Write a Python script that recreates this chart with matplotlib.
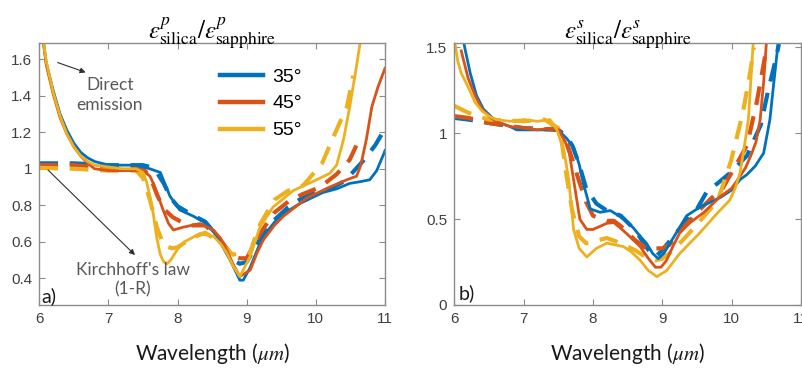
import matplotlib
matplotlib.use("Agg")
import matplotlib.pyplot as plt
from matplotlib.lines import Line2D

plt.rcParams['mathtext.fontset'] = 'stix'
plt.rcParams['font.family'] = ['Liberation Sans', 'DejaVu Sans']

# ---------------- data: panel a (p polarisation) ----------------
p_solid_35_x = [6.05,6.1,6.2,6.3,6.4,6.5,6.6,6.7,6.8,7.0,7.2,7.4,7.6,7.75,7.89,8.03,8.23,8.42,8.57,8.76,8.85,8.9,8.95,9.05,9.19,9.3,9.43,9.6,9.77,10.1,10.3,10.49,10.65,10.78,10.88,10.98,11.0]
p_solid_35_y = [1.72,1.58,1.43,1.30,1.21,1.14,1.09,1.06,1.04,1.02,1.02,1.02,1.0,0.98,0.85,0.775,0.74,0.70,0.63,0.50,0.43,0.39,0.39,0.46,0.59,0.66,0.72,0.77,0.81,0.87,0.89,0.92,0.93,0.94,0.99,1.08,1.10]

p_solid_45_x = [6.05,6.1,6.2,6.3,6.4,6.5,6.6,6.7,6.8,7.0,7.2,7.4,7.5,7.6,7.65,7.72,7.79,7.87,7.94,8.08,8.32,8.52,8.62,8.71,8.8,8.9,9.05,9.15,9.24,9.4,9.53,9.7,9.87,10.2,10.45,10.59,10.65,10.73,10.81,10.9,11.0]
p_solid_45_y = [1.72,1.57,1.41,1.28,1.19,1.12,1.07,1.03,1.0,0.99,0.99,0.99,0.99,0.96,0.92,0.85,0.775,0.70,0.665,0.68,0.70,0.665,0.62,0.555,0.48,0.41,0.445,0.54,0.61,0.69,0.74,0.79,0.84,0.90,0.94,0.96,1.02,1.16,1.34,1.45,1.55]

p_solid_55_x = [6.05,6.1,6.2,6.3,6.4,6.5,6.6,6.7,6.8,7.0,7.2,7.4,7.5,7.55,7.6,7.65,7.7,7.75,7.8,7.85,7.9,8.0,8.1,8.32,8.52,8.62,8.71,8.8,8.9,9.05,9.19,9.38,9.67,10.01,10.2,10.3,10.4,10.49,10.57,10.64]
p_solid_55_y = [1.72,1.59,1.42,1.29,1.19,1.12,1.07,1.04,1.02,1.01,1.0,1.0,0.98,0.93,0.85,0.75,0.62,0.53,0.49,0.48,0.50,0.56,0.60,0.645,0.63,0.59,0.54,0.47,0.41,0.52,0.68,0.79,0.88,0.94,0.975,1.02,1.16,1.34,1.52,1.69]

p_dash_35_x = [6.0,6.5,7.0,7.5,7.6,7.7,7.8,7.9,8.0,8.2,8.4,8.6,8.8,8.9,9.0,9.2,9.4,9.6,9.8,10.0,10.2,10.4,10.52,10.7,10.86,11.0]
p_dash_35_y = [1.03,1.03,1.02,1.02,1.01,0.98,0.92,0.84,0.795,0.75,0.71,0.62,0.50,0.48,0.49,0.62,0.72,0.79,0.84,0.87,0.89,0.93,0.975,1.05,1.13,1.22]

p_dash_45_x = [6.0,6.5,7.0,7.5,7.6,7.7,7.8,7.93,8.05,8.2,8.4,8.6,8.8,8.9,9.0,9.2,9.4,9.6,9.8,10.0,10.13,10.3,10.49,10.65]
p_dash_45_y = [1.02,1.02,1.0,1.0,0.96,0.86,0.78,0.735,0.71,0.69,0.69,0.62,0.52,0.51,0.51,0.65,0.76,0.82,0.86,0.89,0.92,0.97,1.05,1.18]

p_dash_55_x = [6.0,6.5,7.0,7.4,7.5,7.6,7.7,7.8,7.92,8.0,8.2,8.4,8.6,8.8,8.95,9.05,9.1,9.2,9.4,9.6,9.82,10.09,10.26,10.45,10.54]
p_dash_55_y = [1.005,1.0,0.99,0.99,0.95,0.83,0.68,0.58,0.565,0.57,0.62,0.65,0.60,0.53,0.54,0.54,0.60,0.70,0.83,0.88,0.91,1.03,1.18,1.34,1.51]

# ---------------- data: panel b (s polarisation) ----------------
s_solid_35_x = [6.13,6.15,6.23,6.32,6.42,6.55,6.66,6.8,6.9,7.1,7.3,7.4,7.52,7.62,7.72,7.8,7.86,7.96,8.1,8.25,8.39,8.5,8.58,8.68,8.77,8.86,8.94,9.02,9.11,9.2,9.35,9.54,9.7,9.85,10.0,10.12,10.22,10.34,10.46,10.55,10.6,10.67]
s_solid_35_y = [1.55,1.50,1.35,1.22,1.14,1.09,1.06,1.04,1.02,1.02,1.02,1.03,1.01,0.97,0.92,0.82,0.71,0.56,0.54,0.55,0.515,0.48,0.45,0.40,0.36,0.30,0.27,0.30,0.36,0.42,0.52,0.57,0.60,0.63,0.67,0.73,0.76,0.81,0.885,1.08,1.27,1.53]

s_solid_45_x = [6.1,6.2,6.3,6.4,6.5,6.6,6.8,7.0,7.2,7.4,7.5,7.6,7.66,7.72,7.81,7.91,8.0,8.2,8.3,8.39,8.5,8.68,8.8,8.9,8.98,9.06,9.15,9.25,9.4,9.6,9.83,10.0,10.12,10.2,10.29,10.35,10.41,10.46,10.5]
s_solid_45_y = [1.48,1.32,1.22,1.14,1.10,1.07,1.04,1.03,1.02,1.03,1.02,0.95,0.88,0.73,0.50,0.44,0.44,0.476,0.48,0.45,0.41,0.34,0.27,0.22,0.22,0.26,0.34,0.42,0.48,0.54,0.63,0.68,0.75,0.80,0.885,0.95,1.08,1.3,1.53]

s_solid_55_x = [6.0,6.05,6.1,6.2,6.3,6.4,6.5,6.6,6.8,7.0,7.2,7.38,7.48,7.58,7.65,7.72,7.8,7.91,8.05,8.2,8.44,8.55,8.68,8.8,8.92,9.06,9.25,9.54,9.78,9.97,10.05,10.12,10.18,10.24,10.29,10.31]
s_solid_55_y = [1.55,1.42,1.35,1.27,1.18,1.13,1.10,1.08,1.07,1.08,1.07,1.08,1.02,0.90,0.73,0.44,0.33,0.28,0.33,0.36,0.34,0.31,0.26,0.20,0.165,0.20,0.30,0.42,0.53,0.61,0.68,0.77,0.92,1.08,1.4,1.53]

s_dash_35_x = [6.0,6.2,6.5,7.0,7.5,7.6,7.7,7.8,7.9,8.05,8.2,8.4,8.6,8.8,8.9,9.0,9.1,9.3,9.5,9.64,9.8,9.98,10.22,10.42,10.52,10.64,10.68]
s_dash_35_y = [1.09,1.08,1.06,1.03,1.02,0.99,0.93,0.82,0.68,0.59,0.55,0.52,0.44,0.32,0.28,0.32,0.37,0.47,0.56,0.66,0.71,0.77,0.87,1.05,1.24,1.44,1.52]

s_dash_45_x = [6.0,6.2,6.5,7.0,7.5,7.6,7.7,7.8,7.9,8.0,8.2,8.3,8.4,8.6,8.8,8.9,9.0,9.1,9.3,9.5,9.7,9.87,10.11,10.22,10.36,10.49]
s_dash_45_y = [1.10,1.09,1.06,1.03,1.02,0.97,0.85,0.72,0.60,0.52,0.49,0.49,0.46,0.38,0.32,0.33,0.33,0.35,0.45,0.54,0.62,0.68,0.85,0.93,1.18,1.47]

s_dash_55_x = [6.0,6.1,6.2,6.5,7.0,7.3,7.5,7.55,7.6,7.7,7.8,7.9,8.0,8.2,8.4,8.6,8.8,8.9,9.0,9.1,9.3,9.5,9.8,9.99,10.16,10.26,10.32]
s_dash_55_y = [1.16,1.14,1.12,1.08,1.07,1.08,1.03,0.95,0.80,0.55,0.40,0.36,0.37,0.39,0.36,0.32,0.27,0.26,0.27,0.30,0.38,0.47,0.61,0.84,1.12,1.34,1.5]

angles = ['35°', '45°', '55°']
colors = ['#0072BD', '#D95319', '#EDB120']

p_solid = [(p_solid_35_x, p_solid_35_y), (p_solid_45_x, p_solid_45_y), (p_solid_55_x, p_solid_55_y)]
p_dash = [(p_dash_35_x, p_dash_35_y), (p_dash_45_x, p_dash_45_y), (p_dash_55_x, p_dash_55_y)]
s_solid = [(s_solid_35_x, s_solid_35_y), (s_solid_45_x, s_solid_45_y), (s_solid_55_x, s_solid_55_y)]
s_dash = [(s_dash_35_x, s_dash_35_y), (s_dash_45_x, s_dash_45_y), (s_dash_55_x, s_dash_55_y)]

xticks = [6, 7, 8, 9, 10, 11]
p_yticks = [0.4, 0.6, 0.8, 1.0, 1.2, 1.4, 1.6]
p_yticklabels = ['0.4', '0.6', '0.8', '1', '1.2', '1.4', '1.6']
s_yticks = [0, 0.5, 1.0, 1.5]
s_yticklabels = ['0', '0.5', '1', '1.5']

fig = plt.figure(figsize=(8.02, 3.71), dpi=100)
ax1 = fig.add_axes([39.3/802, 1-305/371, 345.7/802, 262/371])
ax2 = fig.add_axes([454.3/802, 1-305/371, 346.8/802, 262/371])

spine_col = '#8c8c8c'
tick_col = '#404040'
lab_font = ['Lato', 'DejaVu Sans']

def style(ax, yticks, ylabels, ylim):
    ax.set_xlim(6, 11)
    ax.set_ylim(*ylim)
    ax.set_xticks(xticks)
    ax.set_xticklabels([str(t) for t in xticks])
    ax.set_yticks(yticks)
    ax.set_yticklabels(ylabels)
    ax.tick_params(direction='in', top=True, right=True, length=4, width=0.8,
                   color=spine_col, labelcolor=tick_col, labelsize=11, pad=5)
    for sp in ax.spines.values():
        sp.set_color(spine_col)
        sp.set_linewidth(1.0)
    ax.set_xlabel('Wavelength ($\\mathit{\\mu m}$)', fontsize=15, family=lab_font,
                  color='#1a1a1a', labelpad=11)

for ax, solid, dash in [(ax1, p_solid, p_dash), (ax2, s_solid, s_dash)]:
    for (x, y), c in zip(dash, colors):
        ax.plot(x, y, color=c, lw=3.0, dashes=(4.5, 2.8), solid_capstyle='butt', dash_capstyle='butt')
    for (x, y), c in zip(solid, colors):
        ax.plot(x, y, color=c, lw=2.0)

style(ax1, p_yticks, p_yticklabels, (0.254, 1.689))
style(ax2, s_yticks, s_yticklabels, (0.0, 1.526))

ax1.set_title('$\\epsilon^{p}_{\\mathrm{silica}}/\\epsilon^{p}_{\\mathrm{sapphire}}$', fontsize=18, pad=3)
ax2.set_title('$\\epsilon^{s}_{\\mathrm{silica}}/\\epsilon^{s}_{\\mathrm{sapphire}}$', fontsize=18, pad=3)

handles = [Line2D([0], [0], color=c, lw=3.2) for c in colors]
ax1.legend(handles, angles, loc='upper left', bbox_to_anchor=(0.522, 0.905), frameon=False,
           fontsize=14, handlelength=2.2, handletextpad=0.5, labelspacing=0.48, borderpad=0,
           borderaxespad=0)

ann_col = '#595959'
ax1.annotate('', xy=(6.709, 1.523), xytext=(6.227, 1.587),
             arrowprops=dict(arrowstyle='-|>', color='#303030', lw=0.8, mutation_scale=8))
ax1.text(7.02, 1.404, 'Direct\nemission', ha='center', va='center', fontsize=12.5,
         family=lab_font, color=ann_col, linespacing=1.25)
ax1.annotate('', xy=(7.413, 0.517), xytext=(6.097, 1.004),
             arrowprops=dict(arrowstyle='-|>', color='#303030', lw=0.8, mutation_scale=8))
ax1.text(7.355, 0.393, "Kirchhoff's law\n(1-R)", ha='center', va='center', fontsize=12.5,
         family=lab_font, color=ann_col, linespacing=1.25)

ax1.text(6.03, 0.30, 'a)', ha='left', va='center', fontsize=14, family=lab_font, color='#1a1a1a')
ax2.text(6.06, 0.07, 'b)', ha='left', va='center', fontsize=14, family=lab_font, color='#1a1a1a')

fig.savefig('out.png', dpi=100)
